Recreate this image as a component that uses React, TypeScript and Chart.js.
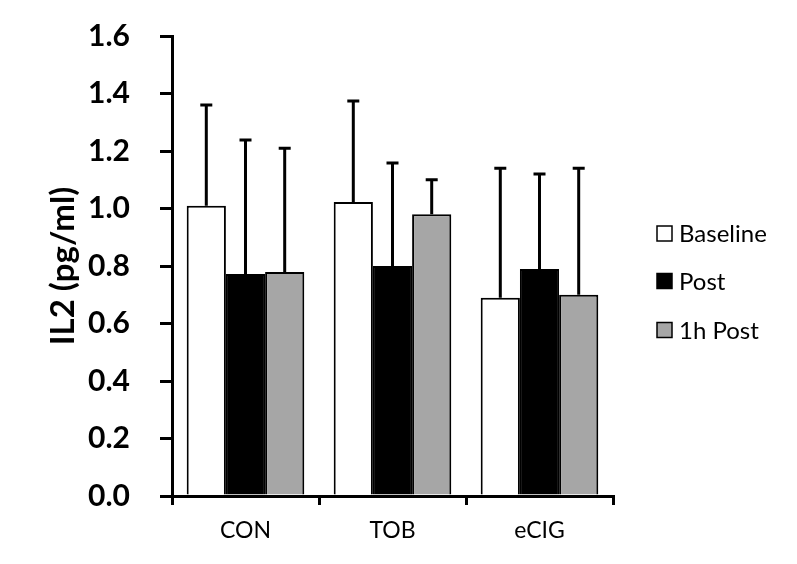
import React, { useEffect, useRef } from "react";
import { Chart, registerables } from "chart.js";
Chart.register(...registerables);

const categories = ["CON", "TOB", "eCIG"];
const seriesNames = ["Baseline", "Post", "1h Post"];
const baseline = [1.01, 1.023, 0.69];
const post = [0.772, 0.8, 0.79];
const post1h = [0.779, 0.98, 0.7];
const baselineErr = [0.35, 0.351, 0.45];
const postErr = [0.466, 0.358, 0.33];
const post1hErr = [0.431, 0.12, 0.44];
const yTicks = [0, 0.2, 0.4, 0.6, 0.8, 1.0, 1.2, 1.4, 1.6];
const colors = ["#ffffff", "#000000", "#a6a6a6"];

const FONT = "Lato, 'Open Sans', sans-serif";

const errorBarPlugin = {
  id: "errorBars",
  afterDatasetsDraw(chart: any) {
    const ctx = chart.ctx;
    const y = chart.scales.y;
    const errs = [baselineErr, postErr, post1hErr];
    ctx.save();
    ctx.strokeStyle = "#000";
    ctx.lineWidth = 3;
    chart.data.datasets.forEach((ds: any, di: number) => {
      const meta = chart.getDatasetMeta(di);
      meta.data.forEach((bar: any, i: number) => {
        const v = ds.data[i];
        const top = y.getPixelForValue(v + errs[di][i]);
        const base = y.getPixelForValue(v);
        ctx.beginPath();
        ctx.moveTo(bar.x, base);
        ctx.lineTo(bar.x, top);
        ctx.moveTo(bar.x - 6, top);
        ctx.lineTo(bar.x + 6, top);
        ctx.stroke();
      });
    });
    ctx.restore();
  },
};

const legendPlugin = {
  id: "customLegend",
  afterDraw(chart: any) {
    const ctx = chart.ctx;
    ctx.save();
    const x0 = 657;
    const ys = [233.5, 281, 330];
    seriesNames.forEach((name, i) => {
      ctx.fillStyle = colors[i];
      ctx.fillRect(x0, ys[i] - 7.5, 15, 15);
      ctx.strokeStyle = "#000";
      ctx.lineWidth = 1.5;
      ctx.strokeRect(x0, ys[i] - 7.5, 15, 15);
      ctx.fillStyle = "#000";
      ctx.font = `24px ${FONT}`;
      ctx.textBaseline = "middle";
      ctx.textAlign = "left";
      ctx.fillText(name, x0 + 22, ys[i] + 1);
    });
    ctx.restore();
  },
};

export default function App() {
  const ref = useRef<HTMLCanvasElement>(null);
  useEffect(() => {
    if (!ref.current) return;
    const data = [baseline, post, post1h];
    const chart = new Chart(ref.current, {
      type: "bar",
      data: {
        labels: categories,
        datasets: seriesNames.map((n, i) => ({
          label: n,
          data: data[i],
          backgroundColor: colors[i],
          borderColor: "#000",
          borderWidth: 2,
          borderSkipped: "bottom",
          categoryPercentage: 0.8,
          barPercentage: 1.0,
        })),
      },
      options: {
        animation: false,
        responsive: false,
        layout: { padding: { top: 36, right: 184, left: 44, bottom: 0 } },
        plugins: { legend: { display: false }, tooltip: { enabled: false } },
        scales: {
          x: {
            grid: {
              display: true,
              drawOnChartArea: false,
              drawTicks: true,
              tickLength: 9,
              color: "#000",
              lineWidth: 3,
              offset: true,
            },
            border: { display: true, color: "#000", width: 3 },
            ticks: { color: "#000", font: { family: FONT, size: 23 }, padding: 12 },
            afterFit: (s: any) => { s.height = 68; s.paddingLeft = 0; s.paddingRight = 0; },
          },
          y: {
            min: 0,
            max: 1.6,
            afterBuildTicks: (s: any) => { s.ticks = yTicks.map((v) => ({ value: v })); },
            grid: {
              display: true,
              drawOnChartArea: false,
              drawTicks: true,
              tickLength: 12,
              color: "#000",
              lineWidth: 3,
            },
            border: { display: true, color: "#000", width: 3 },
            ticks: {
              color: "#000",
              font: { family: FONT, size: 30, weight: "bold" },
              padding: 30,
              callback: (v: any) => Number(v).toFixed(1),
            },
            title: {
              display: true,
              text: "IL2 (pg/ml)",
              color: "#000",
              font: { family: FONT, size: 33, weight: "bold" },
              padding: { top: 0, bottom: 0 },
            },
            afterFit: (s: any) => { s.width = 128; s.paddingTop = 0; s.paddingBottom = 0; },
          },
        },
      },
      plugins: [errorBarPlugin, legendPlugin],
    });
    return () => chart.destroy();
  }, []);
  return (
    <div style={{ position: "absolute", left: 0, top: 0, width: 797, height: 564, background: "#fff" }}>
      <canvas ref={ref} width={797} height={564} />
    </div>
  );
}
